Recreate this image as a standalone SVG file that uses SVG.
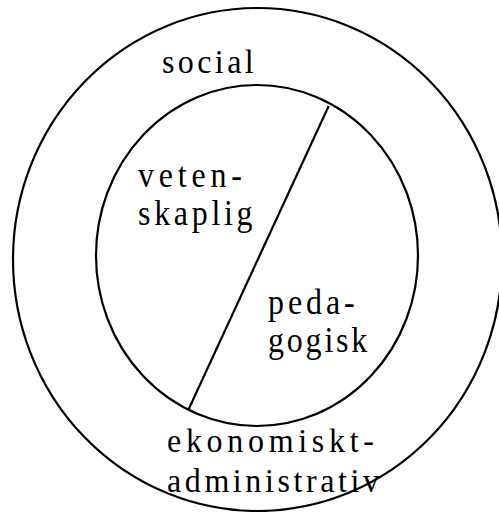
<svg xmlns="http://www.w3.org/2000/svg" width="499" height="512" viewBox="0 0 499 512">
<style>
.ring{fill:none;stroke:#000;stroke-width:2.2}
.lbl{font-family:"Liberation Serif","Times New Roman",serif;font-size:32px;fill:#000;letter-spacing:4px}
</style>
<rect width="499" height="512" fill="#fff"/>
<g id="outer">
<ellipse class="ring" cx="257.5" cy="259.5" rx="244.5" ry="251.5"/>
<text class="lbl" transform="translate(162,73) scale(1,1.06)" style="letter-spacing:3.4px">social</text>
<text class="lbl" transform="translate(167,452) scale(1,1.04)" style="letter-spacing:4.7px">ekonomiskt-</text>
<text class="lbl" transform="translate(167,492) scale(1,1.04)" style="letter-spacing:3.6px">administrativ</text>
</g>
<g id="inner">
<ellipse class="ring" cx="257" cy="255.5" rx="161" ry="170.5"/>
<text class="lbl" transform="translate(138,187) scale(1,1.14)" style="letter-spacing:4.8px">veten-</text>
<text class="lbl" transform="translate(138,225) scale(1,1.14)" style="letter-spacing:3.7px">skaplig</text>
<text class="lbl" transform="translate(268,314) scale(1,1.1)" style="letter-spacing:3.9px">peda-</text>
<text class="lbl" transform="translate(268,352) scale(1,1.1)" style="letter-spacing:2.8px">gogisk</text>
</g>
<g id="connectors">
<line x1="328.7" y1="106" x2="188.3" y2="410" stroke="#000" stroke-width="2.2"/>
</g>
</svg>
